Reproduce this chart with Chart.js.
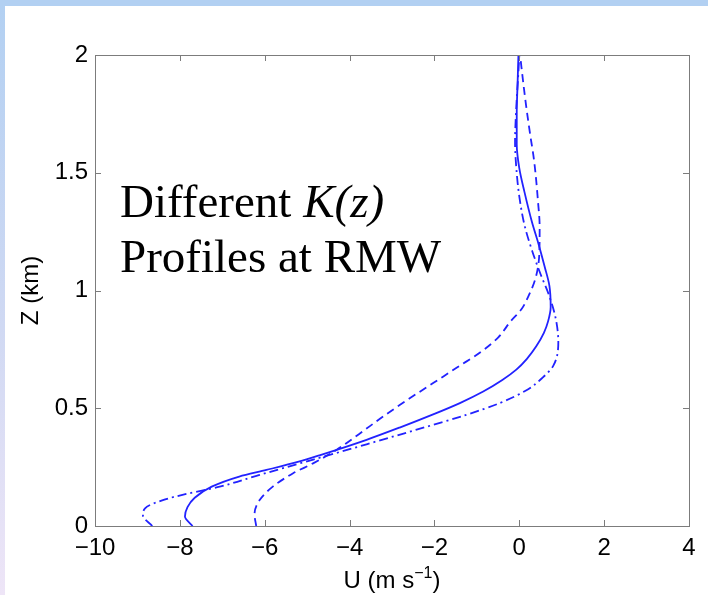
<!DOCTYPE html>
<html>
<head>
<meta charset="utf-8">
<script src="https://cdn.jsdelivr.net/npm/chart.js@4"></script>
<style>
  html, body { margin: 0; padding: 0; }
  body {
    width: 708px; height: 595px; position: relative; overflow: hidden;
    background: linear-gradient(to bottom, #b2d0f2 0%, #d0d9f3 55%, #eee5f7 100%);
  }
  #band  { position: absolute; left: 0; top: 0; width: 708px; height: 6px; background: #b2d0f2; }
  #sheet { position: absolute; left: 5px; top: 6px; right: 0; bottom: 0; background: #fff; }
  #wrap  { position: absolute; left: 0; top: 0; width: 708px; height: 595px; }
</style>
</head>
<body>
<div id="band"></div>
<div id="sheet"></div>
<div id="wrap"><canvas id="c" width="708" height="595"></canvas></div>
<script>
// Radial wind U (m/s) against height Z (km) for three eddy-diffusivity profiles
const solidU   = [-7.70, -7.88, -7.82, -7.65, -7.25, -6.60, -5.96, -5.20, -4.71, -3.60, -2.82, -2.03, -1.40, -0.85, -0.40, -0.07, 0.18, 0.40, 0.58, 0.68, 0.74, 0.71, 0.60, 0.45, 0.30, 0.12, 0.00, -0.06, -0.06, -0.04, -0.02];
const solidZ   = [0.00, 0.04, 0.08, 0.12, 0.167, 0.21, 0.238, 0.273, 0.30, 0.366, 0.418, 0.474, 0.522, 0.571, 0.62, 0.664, 0.71, 0.763, 0.82, 0.87, 0.93, 1.02, 1.10, 1.20, 1.29, 1.42, 1.52, 1.62, 1.75, 1.88, 2.00];

const dashedU  = [-6.20, -6.24, -6.12, -5.81, -5.33, -4.86, -4.31, -3.78, -3.21, -2.60, -2.03, -1.45, -0.90, -0.50, -0.20, 0.05, 0.20, 0.38, 0.47, 0.48, 0.44, 0.35, 0.25, 0.15, 0.05, 0.02];
const dashedZ  = [0.00, 0.05, 0.11, 0.167, 0.224, 0.266, 0.323, 0.39, 0.465, 0.54, 0.607, 0.675, 0.74, 0.80, 0.87, 0.92, 0.97, 1.05, 1.15, 1.27, 1.38, 1.55, 1.67, 1.80, 1.95, 2.00];

const dashDotU = [-8.65, -8.87, -8.82, -8.40, -7.85, -7.06, -6.12, -5.25, -4.45, -3.60, -2.42, -1.25, -0.46, 0.20, 0.55, 0.80, 0.92, 0.86, 0.70, 0.50, 0.30, 0.12, 0.00, -0.07, -0.10, -0.07, -0.02, 0.00];
const dashDotZ = [0.00, 0.045, 0.075, 0.11, 0.136, 0.167, 0.217, 0.262, 0.303, 0.347, 0.409, 0.472, 0.522, 0.58, 0.63, 0.68, 0.78, 0.88, 0.98, 1.07, 1.17, 1.28, 1.40, 1.52, 1.63, 1.78, 1.93, 2.00];

const xTicks = [-10, -8, -6, -4, -2, 0, 2, 4];
const yTicks = [0, 0.5, 1, 1.5, 2];

const LINE = '#2222ff';
const SANS = '"Liberation Sans", Arial, Helvetica, sans-serif';
const SERIF = '"Liberation Serif", "Times New Roman", serif';
const TICK_PX = 24;
const TITLE_PX = 24;

const pts = (us, zs) => us.map((u, i) => ({ x: u, y: zs[i] }));

// MATLAB-style box with inward ticks, axis titles and the in-plot note
const decor = {
  id: 'decor',
  afterDatasetsDraw(chart) {
    const { ctx, chartArea: a, scales: { x, y } } = chart;
    ctx.save();
    ctx.strokeStyle = '#7c7c7c';
    ctx.lineWidth = 1;
    ctx.strokeRect(Math.round(a.left) + 0.5, Math.round(a.top) + 0.5,
                   Math.round(a.right - a.left), Math.round(a.bottom - a.top));
    ctx.beginPath();
    const t = 6;
    xTicks.forEach(v => {
      const px = Math.round(x.getPixelForValue(v)) + 0.5;
      ctx.moveTo(px, a.bottom); ctx.lineTo(px, a.bottom - t);
      ctx.moveTo(px, a.top);    ctx.lineTo(px, a.top + t);
    });
    yTicks.forEach(v => {
      const py = Math.round(y.getPixelForValue(v)) + 0.5;
      ctx.moveTo(a.left, py);  ctx.lineTo(a.left + t, py);
      ctx.moveTo(a.right, py); ctx.lineTo(a.right - t, py);
    });
    ctx.stroke();

    // y axis title
    ctx.fillStyle = '#000';
    ctx.font = TITLE_PX + 'px ' + SANS;
    ctx.textAlign = 'center';
    ctx.textBaseline = 'middle';
    ctx.save();
    ctx.translate(31, (a.top + a.bottom) / 2);
    ctx.rotate(-Math.PI / 2);
    ctx.fillText('Z (km)', 0, 0);
    ctx.restore();

    // x axis title with superscript
    ctx.textBaseline = 'alphabetic';
    ctx.textAlign = 'left';
    const main = 'U (m s', sup = '\u22121', tail = ')';
    const supPx = Math.round(TITLE_PX * 0.68);
    ctx.font = TITLE_PX + 'px ' + SANS;
    const w1 = ctx.measureText(main).width, w3 = ctx.measureText(tail).width;
    ctx.font = supPx + 'px ' + SANS;
    const w2 = ctx.measureText(sup).width;
    const cx = (a.left + a.right) / 2;
    const sx = cx - (w1 + w2 + w3) / 2;
    const base = 588;
    ctx.font = TITLE_PX + 'px ' + SANS;
    ctx.fillText(main, sx, base);
    ctx.font = supPx + 'px ' + SANS;
    ctx.fillText(sup, sx + w1, base - 10);
    ctx.font = TITLE_PX + 'px ' + SANS;
    ctx.fillText(tail, sx + w1 + w2, base);

    // note inside the axes
    ctx.font = '47px ' + SERIF;
    ctx.fillText('Different ', 120, 217);
    const wd = ctx.measureText('Different ').width;
    ctx.font = 'italic 47px ' + SERIF;
    ctx.fillText('K(z)', 120 + wd, 217);
    ctx.font = '47px ' + SERIF;
    ctx.fillText('Profiles at RMW', 120, 272);
    ctx.restore();
  }
};

new Chart(document.getElementById('c'), {
  type: 'line',
  data: {
    datasets: [
      { label: 'solid', data: pts(solidU, solidZ), borderDash: [] },
      { label: 'dashed', data: pts(dashedU, dashedZ), borderDash: [8, 5] },
      { label: 'dash-dot', data: pts(dashDotU, dashDotZ), borderDash: [9, 4, 2, 4] }
    ].map(d => Object.assign(d, {
      borderColor: LINE, borderWidth: 1.8,
      pointRadius: 0, pointHoverRadius: 0,
      cubicInterpolationMode: 'monotone', fill: false
    }))
  },
  options: {
    indexAxis: 'y',
    responsive: false,
    animation: false,
    devicePixelRatio: 1,
    layout: { padding: { top: 55, right: 19, left: 0, bottom: 0 } },
    plugins: { legend: { display: false }, tooltip: { enabled: false } },
    scales: {
      x: {
        type: 'linear', min: -10, max: 4,
        afterBuildTicks: s => { s.ticks = xTicks.map(v => ({ value: v })); },
        afterFit: s => { s.height = 69; },
        grid: { display: false, drawTicks: false },
        border: { display: false },
        ticks: {
          padding: 8, color: '#000', maxRotation: 0,
          font: { family: SANS, size: TICK_PX },
          callback: v => String(v).replace('-', '\u2212')
        }
      },
      y: {
        type: 'linear', min: 0, max: 2,
        afterBuildTicks: s => { s.ticks = yTicks.map(v => ({ value: v })); },
        afterFit: s => { s.width = 95; },
        grid: { display: false, drawTicks: false },
        border: { display: false },
        ticks: {
          padding: 7, color: '#000',
          font: { family: SANS, size: TICK_PX },
          callback: v => String(v)
        }
      }
    }
  },
  plugins: [decor]
});
</script>
</body>
</html>
